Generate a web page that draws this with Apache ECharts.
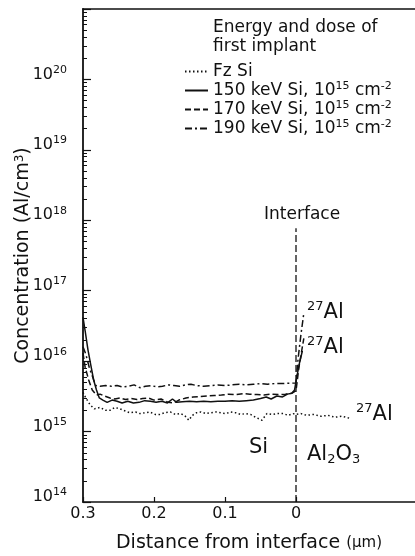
<!DOCTYPE html>
<html>
<head>
<meta charset="utf-8">
<script src="https://cdn.jsdelivr.net/npm/echarts@6/dist/echarts.min.js"></script>
<style>
html, body { margin: 0; padding: 0; background: #fff; }
#chart { width: 415px; height: 556px; }
</style>
</head>
<body>
<div id="chart"></div>
<script>
// [distance from interface (um), Al concentration (cm^-3)]
const fzSi = [
  [0.300, 3.6e15], [0.296, 3.0e15], [0.290, 2.4e15], [0.284, 2.1e15], [0.276, 2.2e15],
  [0.268, 2.0e15], [0.262, 2.0e15], [0.255, 2.2e15], [0.248, 2.1e15], [0.240, 1.95e15],
  [0.234, 1.85e15], [0.226, 1.9e15], [0.220, 1.8e15], [0.212, 1.85e15], [0.206, 1.9e15],
  [0.198, 1.75e15], [0.192, 1.75e15], [0.185, 1.85e15], [0.177, 1.9e15], [0.170, 1.75e15],
  [0.163, 1.8e15], [0.157, 1.7e15], [0.151, 1.45e15], [0.146, 1.7e15], [0.140, 1.85e15],
  [0.134, 1.9e15], [0.127, 1.8e15], [0.120, 1.85e15], [0.113, 1.9e15], [0.106, 1.85e15],
  [0.099, 1.8e15], [0.092, 1.9e15], [0.085, 1.85e15], [0.078, 1.75e15], [0.071, 1.8e15],
  [0.064, 1.75e15], [0.057, 1.6e15], [0.048, 1.45e15], [0.041, 1.8e15], [0.034, 1.75e15],
  [0.026, 1.8e15], [0.018, 1.8e15], [0.011, 1.7e15], [0.004, 1.8e15], [0.000, 1.75e15],
  [-0.007, 1.8e15], [-0.015, 1.7e15], [-0.025, 1.75e15], [-0.035, 1.65e15], [-0.045, 1.7e15],
  [-0.055, 1.6e15], [-0.065, 1.65e15], [-0.075, 1.55e15]
];
const si150 = [
  [0.300, 4.2e16], [0.297, 2.7e16], [0.293, 1.45e16], [0.289, 8.8e15], [0.285, 5.4e15],
  [0.281, 3.9e15], [0.277, 3.0e15], [0.272, 2.8e15], [0.266, 2.6e15], [0.259, 2.8e15],
  [0.252, 2.7e15], [0.245, 2.55e15], [0.237, 2.7e15], [0.229, 2.55e15], [0.221, 2.6e15],
  [0.213, 2.75e15], [0.205, 2.7e15], [0.197, 2.6e15], [0.189, 2.7e15], [0.181, 2.55e15],
  [0.174, 2.9e15], [0.168, 2.6e15], [0.160, 2.65e15], [0.150, 2.7e15], [0.140, 2.65e15],
  [0.130, 2.7e15], [0.120, 2.65e15], [0.110, 2.7e15], [0.100, 2.7e15], [0.090, 2.75e15],
  [0.080, 2.7e15], [0.070, 2.75e15], [0.060, 2.8e15], [0.050, 2.95e15], [0.042, 3.1e15],
  [0.035, 2.9e15], [0.027, 3.2e15], [0.019, 3.1e15], [0.012, 3.4e15], [0.006, 3.5e15],
  [0.002, 3.9e15], [-0.001, 5.9e15], [-0.005, 9.5e15], [-0.009, 1.4e16]
];
const si170 = [
  [0.300, 1.3e16], [0.297, 8.2e15], [0.292, 5.4e15], [0.287, 3.9e15], [0.281, 3.3e15],
  [0.276, 3.4e15], [0.270, 3.2e15], [0.262, 3.0e15], [0.255, 2.9e15], [0.248, 3.0e15],
  [0.240, 2.85e15], [0.232, 2.95e15], [0.224, 2.85e15], [0.216, 2.95e15], [0.208, 3.0e15],
  [0.200, 2.8e15], [0.190, 2.9e15], [0.180, 2.6e15], [0.172, 2.55e15], [0.165, 2.8e15],
  [0.155, 3.0e15], [0.145, 3.1e15], [0.135, 3.15e15], [0.125, 3.2e15], [0.115, 3.25e15],
  [0.105, 3.3e15], [0.095, 3.4e15], [0.085, 3.35e15], [0.075, 3.45e15], [0.065, 3.4e15],
  [0.055, 3.35e15], [0.045, 3.3e15], [0.035, 3.4e15], [0.025, 3.35e15], [0.015, 3.4e15],
  [0.006, 3.5e15], [0.000, 3.8e15], [-0.004, 8e15], [-0.008, 1.4e16], [-0.011, 2.1e16]
];
const si190 = [
  [0.300, 1.6e16], [0.296, 1.25e16], [0.291, 8e15], [0.286, 5.8e15], [0.282, 4.5e15],
  [0.276, 4.4e15], [0.268, 4.5e15], [0.260, 4.4e15], [0.252, 4.5e15], [0.244, 4.3e15],
  [0.236, 4.4e15], [0.228, 4.6e15], [0.220, 4.2e15], [0.212, 4.4e15], [0.204, 4.5e15],
  [0.196, 4.3e15], [0.188, 4.4e15], [0.180, 4.6e15], [0.172, 4.5e15], [0.164, 4.4e15],
  [0.156, 4.6e15], [0.148, 4.7e15], [0.140, 4.5e15], [0.130, 4.4e15], [0.120, 4.5e15],
  [0.110, 4.6e15], [0.100, 4.5e15], [0.090, 4.6e15], [0.080, 4.7e15], [0.070, 4.6e15],
  [0.060, 4.7e15], [0.050, 4.8e15], [0.040, 4.7e15], [0.030, 4.8e15], [0.020, 4.8e15],
  [0.010, 4.85e15], [0.000, 4.9e15], [-0.003, 1.1e16], [-0.007, 2.4e16], [-0.011, 4.8e16]
];
const interfaceLine = [[0, 1e14], [0, 7.7e17]];

const xTicks = [0.3, 0.2, 0.1, 0];
const yDecades = [14, 15, 16, 17, 18, 19, 20];
const legendNames = ['Fz Si', '150 keV', '170 keV', '190 keV'];
const legendLabels = {
  'Fz Si': 'Fz Si',
  '150 keV': '150 keV Si, 10{s|15} cm{s|-2}',
  '170 keV': '170 keV Si, 10{s|15} cm{s|-2}',
  '190 keV': '190 keV Si, 10{s|15} cm{s|-2}'
};

const FONT = 'DejaVu Sans';
const INK = '#111';

// minor tick positions for the log axis, in log10 space
const minorTicks = [];
yDecades.forEach(d => {
  [2, 3, 4, 5, 6, 7, 8, 9].forEach(m => minorTicks.push(d + Math.log10(m)));
});

const chart = echarts.init(document.getElementById('chart'));

function lineSeries(name, data, dash) {
  return {
    name: name,
    type: 'line',
    data: data,
    symbol: 'none',
    showSymbol: false,
    yAxisIndex: 0,
    lineStyle: { color: INK, width: 1.5, type: dash },
    itemStyle: { color: INK },
    animation: false
  };
}

const alText = (left, top) => ({
  type: 'text', left: left, top: top,
  style: {
    text: '{s|27}{b|Al}', fill: INK,
    rich: {
      b: { fontFamily: FONT, fontSize: 21, lineHeight: 26 },
      s: { fontFamily: FONT, fontSize: 13, lineHeight: 13, verticalAlign: 'top' }
    }
  }
});

chart.setOption({
  backgroundColor: '#fff',
  animation: false,
  title: {
    text: 'Energy and dose of\nfirst implant',
    left: 208,
    top: 13,
    textStyle: { fontFamily: FONT, fontSize: 17, fontWeight: 'normal', color: INK, lineHeight: 19 }
  },
  legend: {
    data: legendNames,
    orient: 'vertical',
    left: 179,
    top: 57,
    itemWidth: 23,
    itemHeight: 10,
    itemGap: 0,
    itemStyle: { opacity: 0 },
    formatter: name => legendLabels[name],
    textStyle: {
      fontFamily: FONT, fontSize: 17, color: INK, lineHeight: 19,
      rich: { s: { fontFamily: FONT, fontSize: 11, lineHeight: 11, verticalAlign: 'top', color: INK } }
    }
  },
  grid: { left: 83, right: 0, top: 9, bottom: 54, outerBoundsMode: 'none', containLabel: false },
  xAxis: [{
    type: 'value',
    inverse: true,
    min: -0.1676,
    max: 0.3,
    name: 'Distance from interface {u|(µm)}',
    nameLocation: 'middle',
    nameGap: 32,
    nameTextStyle: {
      fontFamily: FONT, fontSize: 19, color: INK,
      rich: { u: { fontFamily: FONT, fontSize: 15, color: INK } }
    },
    axisLine: { onZero: false, lineStyle: { color: INK, width: 1.6 } },
    axisTick: { inside: true, length: 5, customValues: xTicks, lineStyle: { color: INK, width: 1.2 } },
    axisLabel: {
      customValues: xTicks, margin: 4, fontFamily: FONT, fontSize: 16, color: INK,
      formatter: v => (v === 0 ? '0' : v.toFixed(1))
    },
    splitLine: { show: false }
  }, {
    type: 'value',
    inverse: true,
    position: 'top',
    min: -0.1676,
    max: 0.3,
    axisLine: { onZero: false, lineStyle: { color: INK, width: 1.6 } },
    axisTick: { show: false },
    axisLabel: { show: false },
    splitLine: { show: false }
  }],
  yAxis: [{
    type: 'log',
    logBase: 10,
    min: 1e14,
    max: 1e21,
    show: false
  }, {
    type: 'value',
    min: 14,
    max: 21,
    interval: 1,
    position: 'left',
    name: 'Concentration (Al/cm{s|3})',
    nameLocation: 'middle',
    nameGap: 50,
    nameMoveOverlap: false,
    nameTextStyle: {
      fontFamily: FONT, fontSize: 19, color: INK,
      rich: { s: { fontFamily: FONT, fontSize: 12, lineHeight: 12, verticalAlign: 'top', color: INK } }
    },
    axisLine: { show: true, onZero: false, lineStyle: { color: INK, width: 1.8 } },
    axisTick: { inside: true, length: 8, lineStyle: { color: INK, width: 1.2 } },
    axisLabel: {
      customValues: yDecades,
      margin: 16,
      padding: [0, 0, 10, 0],
      formatter: v => '{b|10}{s|' + v + '}',
      rich: {
        b: { fontFamily: FONT, fontSize: 16, lineHeight: 20, color: INK },
        s: { fontFamily: FONT, fontSize: 11, lineHeight: 11, verticalAlign: 'top', color: INK }
      }
    },
    splitLine: { show: false }
  }, {
    type: 'value',
    min: 14,
    max: 21,
    position: 'left',
    offset: 0,
    axisLine: { show: false, onZero: false },
    axisTick: { show: true, inside: true, length: 4, customValues: minorTicks, lineStyle: { color: INK, width: 1 } },
    axisLabel: { show: false },
    splitLine: { show: false }
  }],
  series: [
    lineSeries('Fz Si', fzSi, [1.5, 2.5]),
    lineSeries('150 keV', si150, 'solid'),
    lineSeries('170 keV', si170, [6, 3]),
    lineSeries('190 keV', si190, [7, 3, 2, 3]),
    {
      type: 'line',
      data: interfaceLine,
      symbol: 'none',
      yAxisIndex: 0,
      lineStyle: { color: INK, width: 1.3, type: [7, 3] },
      animation: false
    }
  ],
  graphic: [
    { type: 'text', left: 264, top: 206, style: { text: 'Interface', font: '17px "DejaVu Sans"', fill: INK } },
    alText(307, 300),
    alText(307, 335),
    alText(356, 402),
    { type: 'text', left: 249, top: 437, style: { text: 'Si', font: '21px "DejaVu Sans"', fill: INK } },
    {
      type: 'text', left: 307, top: 444,
      style: {
        text: '{b|Al}{s|2}{b|O}{s|3}', fill: INK,
        rich: {
          b: { fontFamily: FONT, fontSize: 21, lineHeight: 24 },
          s: { fontFamily: FONT, fontSize: 13, lineHeight: 13, verticalAlign: 'bottom' }
        }
      }
    }
  ]
});
</script>
</body>
</html>
